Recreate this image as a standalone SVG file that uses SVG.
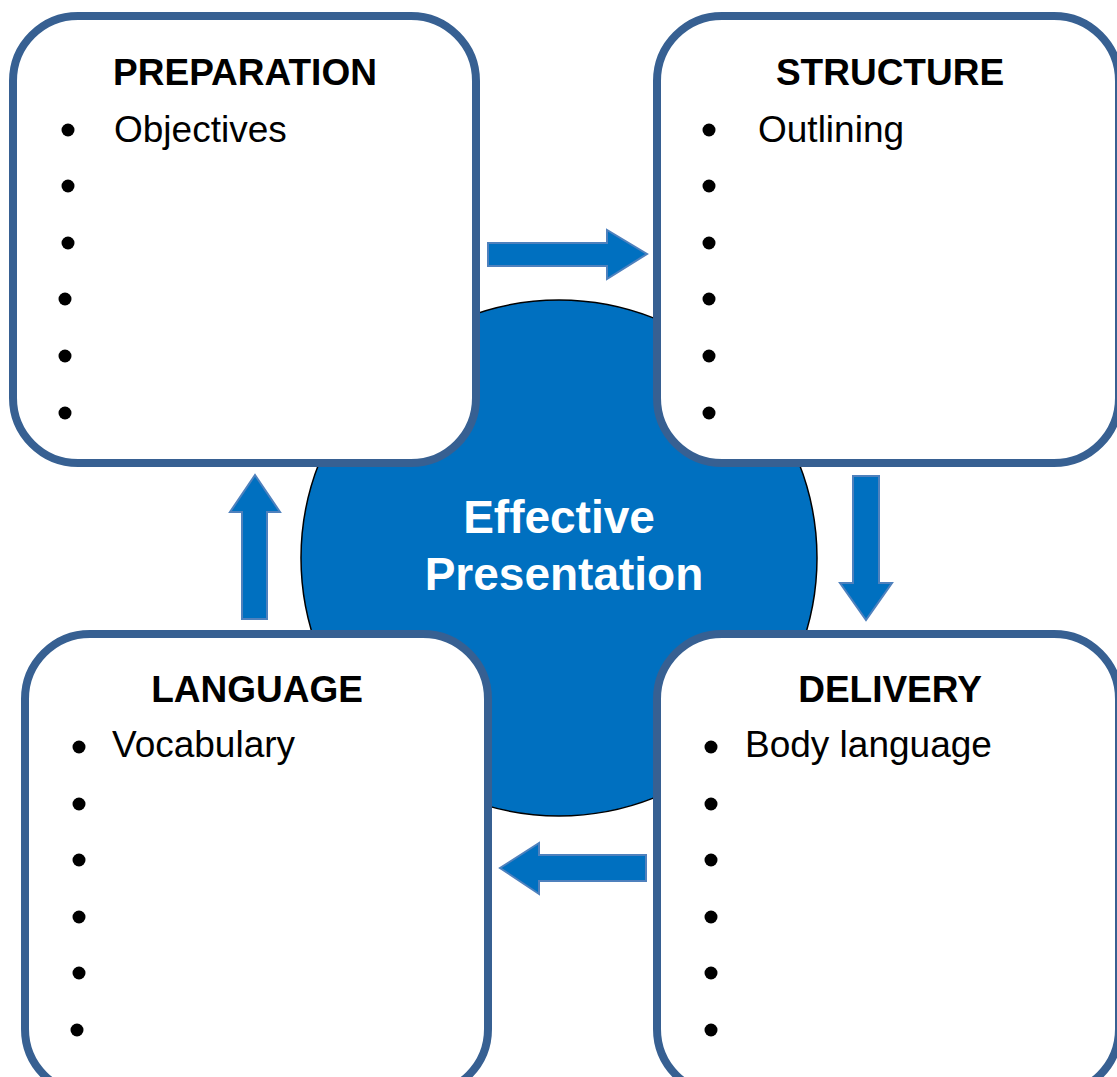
<svg xmlns="http://www.w3.org/2000/svg" width="1117" height="1077" viewBox="0 0 1117 1077">
<style>
.box{fill:#fff;stroke:#376092;stroke-width:8}
.head{font-family:"Liberation Sans",Arial,sans-serif;font-weight:bold;font-size:37px;fill:#000;text-anchor:middle}
.item{font-family:"Liberation Sans",Arial,sans-serif;font-size:37px;fill:#000}
.center{font-family:"Liberation Sans",Arial,sans-serif;font-weight:bold;font-size:46px;fill:#fff;text-anchor:middle}
.arrow{fill:#0070C0;stroke:#4F81BD;stroke-width:2;stroke-linejoin:miter}
.dot{fill:#000}
</style>
<rect width="1117" height="1077" fill="#fff"/>
<g id="hub">
<circle cx="559" cy="558" r="258" fill="#0070C0" stroke="#000" stroke-width="1.5"/>
<text class="center" x="559" y="533">Effective</text>
<text class="center" x="564" y="590">Presentation</text>
</g>
<g id="preparation">
<rect class="box" x="13" y="16" width="463" height="447" rx="65"/>
<text class="head" x="245" y="85">PREPARATION</text>
<text class="item" x="114" y="142">Objectives</text>
<circle class="dot" cx="68" cy="130" r="6.5"/>
<circle class="dot" cx="68" cy="186" r="6.5"/>
<circle class="dot" cx="68" cy="243" r="6.5"/>
<circle class="dot" cx="65" cy="299" r="6.5"/>
<circle class="dot" cx="65" cy="356" r="6.5"/>
<circle class="dot" cx="65" cy="413" r="6.5"/>
</g>
<g id="structure">
<rect class="box" x="657" y="16" width="462" height="447" rx="65"/>
<text class="head" x="890" y="85">STRUCTURE</text>
<text class="item" x="758" y="142">Outlining</text>
<circle class="dot" cx="709" cy="130" r="6.5"/>
<circle class="dot" cx="709" cy="186" r="6.5"/>
<circle class="dot" cx="709" cy="243" r="6.5"/>
<circle class="dot" cx="709" cy="299" r="6.5"/>
<circle class="dot" cx="709" cy="356" r="6.5"/>
<circle class="dot" cx="709" cy="413" r="6.5"/>
</g>
<g id="delivery">
<rect class="box" x="657" y="634" width="462" height="460" rx="65"/>
<text class="head" x="890" y="702">DELIVERY</text>
<text class="item" x="745" y="757">Body language</text>
<circle class="dot" cx="711" cy="747" r="6.5"/>
<circle class="dot" cx="711" cy="804" r="6.5"/>
<circle class="dot" cx="711" cy="860" r="6.5"/>
<circle class="dot" cx="711" cy="917" r="6.5"/>
<circle class="dot" cx="711" cy="973" r="6.5"/>
<circle class="dot" cx="711" cy="1030" r="6.5"/>
</g>
<g id="language">
<rect class="box" x="25" y="634" width="463" height="460" rx="65"/>
<text class="head" x="257" y="702">LANGUAGE</text>
<text class="item" x="112" y="757">Vocabulary</text>
<circle class="dot" cx="79" cy="747" r="6.5"/>
<circle class="dot" cx="79" cy="804" r="6.5"/>
<circle class="dot" cx="79" cy="860" r="6.5"/>
<circle class="dot" cx="79" cy="917" r="6.5"/>
<circle class="dot" cx="79" cy="973" r="6.5"/>
<circle class="dot" cx="77" cy="1030" r="6.5"/>
</g>
<g id="connectors">
<polygon class="arrow" points="488,243 607,243 607,230 647,254 607,279 607,266 488,266"/>
<polygon class="arrow" points="853,476 879,476 879,583 892,583 866,620 840,583 853,583"/>
<polygon class="arrow" points="646,855 539,855 539,843 500,868 539,894 539,881 646,881"/>
<polygon class="arrow" points="242,619 267,619 267,512 280,512 255,475 230,512 242,512"/>
</g>
</svg>
